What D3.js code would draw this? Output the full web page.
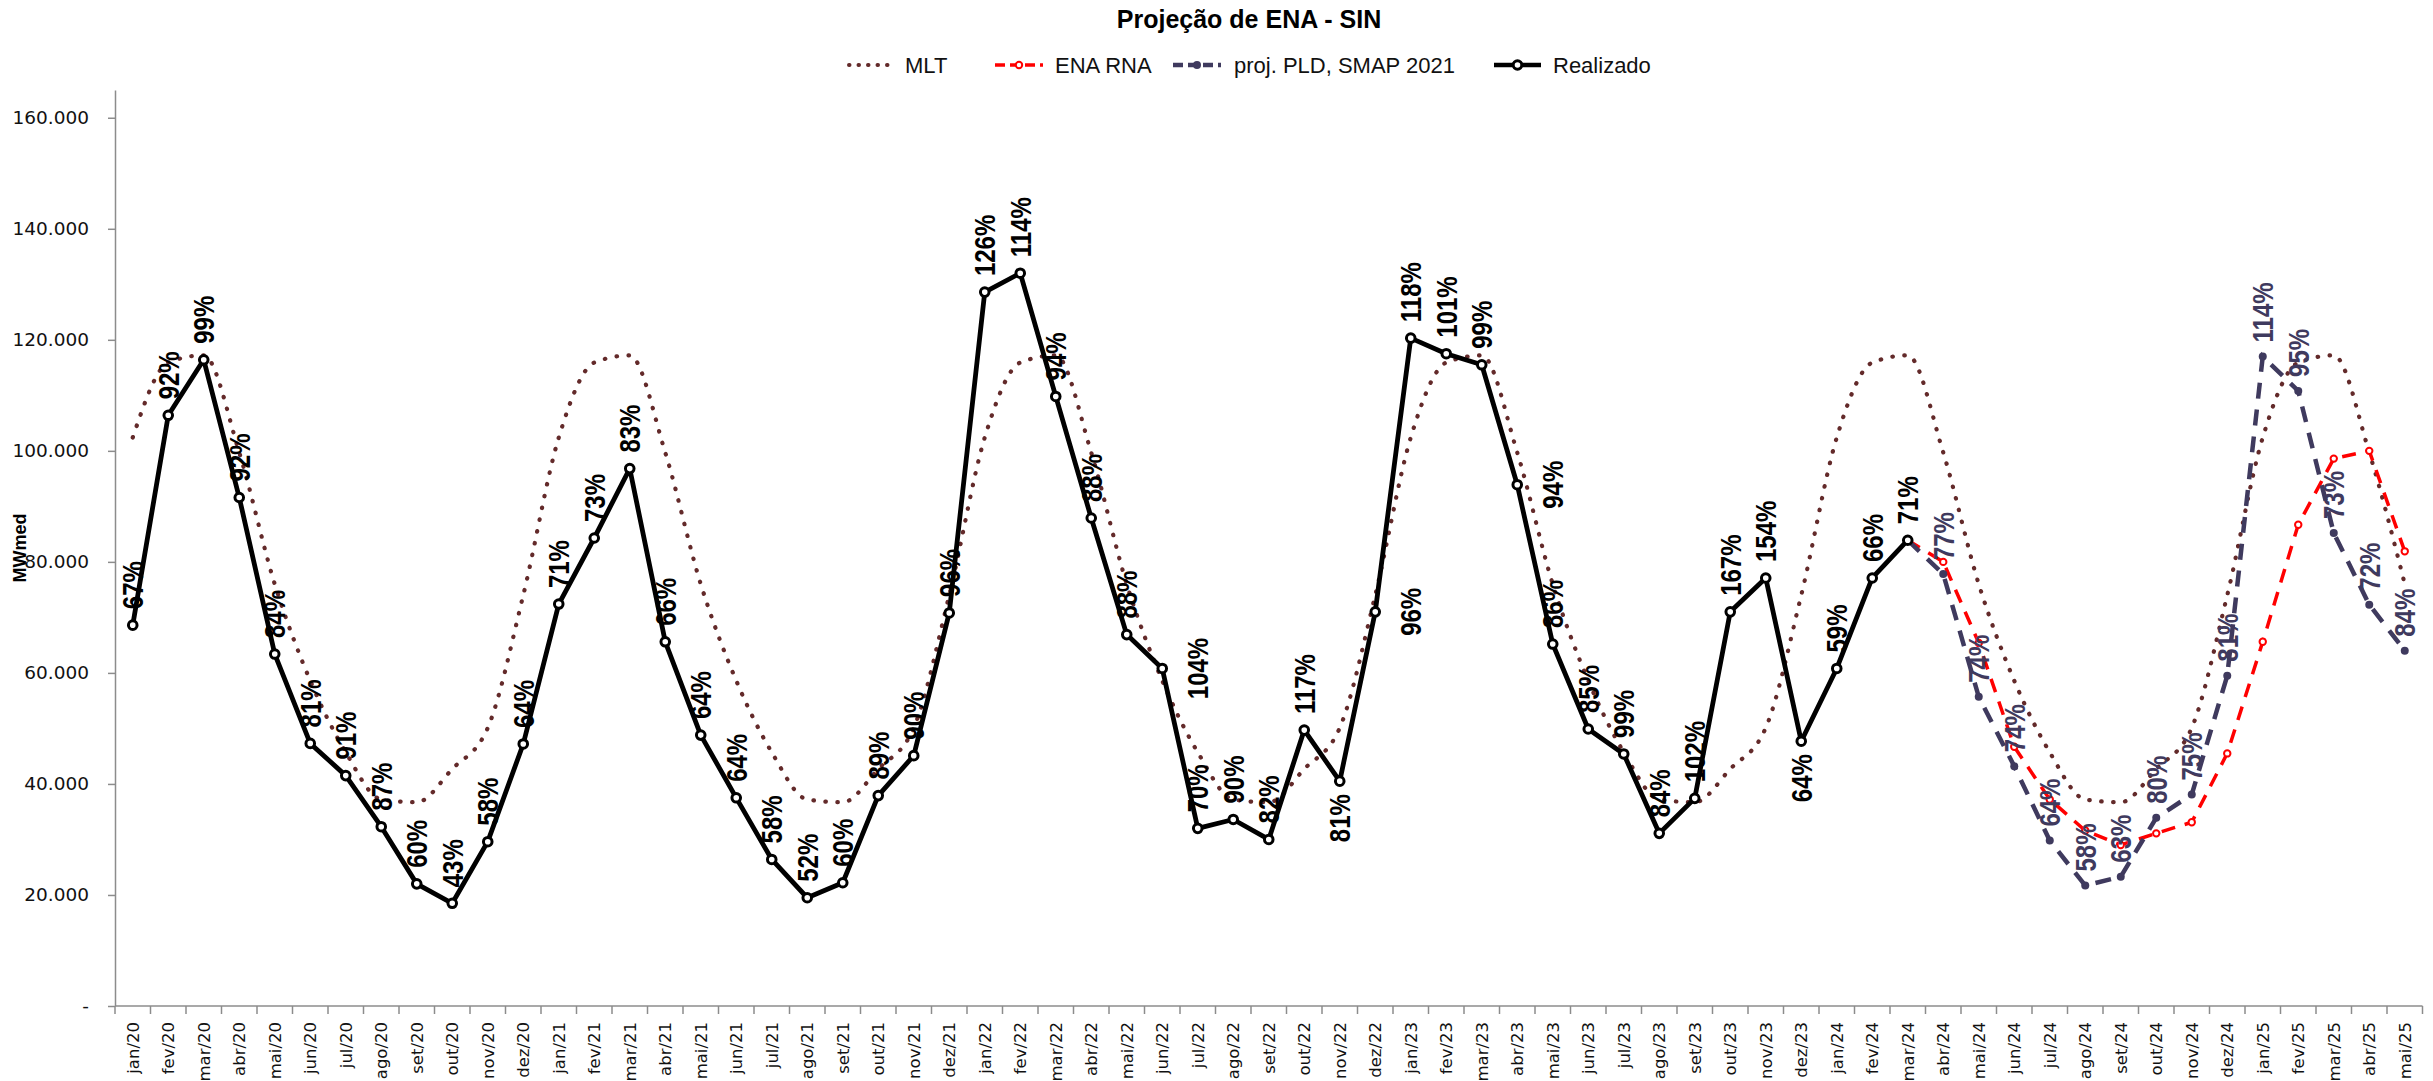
<!DOCTYPE html>
<html><head><meta charset="utf-8">
<script src="https://cdn.jsdelivr.net/npm/d3@7"></script>
<style>body{margin:0;background:#fff}svg{display:block}</style>
</head><body>
<svg id="chart" width="2433" height="1081"></svg>
<script>
// ---------- DATA ----------
const months = [
 "jan/20","fev/20","mar/20","abr/20","mai/20","jun/20","jul/20","ago/20","set/20","out/20","nov/20","dez/20",
 "jan/21","fev/21","mar/21","abr/21","mai/21","jun/21","jul/21","ago/21","set/21","out/21","nov/21","dez/21",
 "jan/22","fev/22","mar/22","abr/22","mai/22","jun/22","jul/22","ago/22","set/22","out/22","nov/22","dez/22",
 "jan/23","fev/23","mar/23","abr/23","mai/23","jun/23","jul/23","ago/23","set/23","out/23","nov/23","dez/23",
 "jan/24","fev/24","mar/24","abr/24","mai/24","jun/24","jul/24","ago/24","set/24","out/24","nov/24","dez/24",
 "jan/25","fev/25","mar/25","abr/25","mai/25"];

const mlt = [
 102400,115900,117200,99700,76000,58600,45700,37200,36700,42700,50100,74000,
 102400,115900,117200,99700,76000,58600,45700,37200,36700,42700,50100,74000,
 102400,115900,117200,99700,76000,58600,45700,37200,36700,42700,50100,74000,
 102400,115900,117200,99700,76000,58600,45700,37200,36700,42700,50100,74000,
 102400,115900,117200,99700,76000,58600,45700,37200,36700,42700,50100,74000,
 102400,115900,117200,99700,76000];

const realizado = [
 68600,106400,116400,91600,63400,47300,41500,32300,22000,18500,29600,47200,
 72400,84300,96800,65600,48800,37500,26400,19500,22200,37900,45100,70800,
 128600,132000,109800,87900,66900,60800,32000,33600,30000,49700,40500,71000,
 120300,117500,115500,93900,65200,49900,45400,31100,37400,71000,77100,47700,
 60800,77100,83900,null,null,null,null,null,null,null,null,null,
 null,null,null,null,null];

const realizadoPct = [
 67,92,99,92,84,81,91,87,60,43,58,64,
 71,73,83,66,64,64,58,52,60,89,90,96,
 126,114,94,88,88,104,70,90,82,117,81,96,
 118,101,99,94,86,85,99,84,102,167,154,64,
 59,66,71,null,null,null,null,null,null,null,null,null,
 null,null,null,null,null];

const enaRna = [
 null,null,null,null,null,null,null,null,null,null,null,null,
 null,null,null,null,null,null,null,null,null,null,null,null,
 null,null,null,null,null,null,null,null,null,null,null,null,
 null,null,null,null,null,null,null,null,null,null,null,null,
 null,null,83900,80000,65400,46700,37200,31600,29000,31100,33100,45500,
 65600,86700,98600,100000,81900];

const projPLD = [
 null,null,null,null,null,null,null,null,null,null,null,null,
 null,null,null,null,null,null,null,null,null,null,null,null,
 null,null,null,null,null,null,null,null,null,null,null,null,
 null,null,null,null,null,null,null,null,null,null,null,null,
 null,null,83900,77800,55700,43200,29800,21700,23300,33900,38100,59500,
 117000,110800,85200,72300,64000];

const projPct = [
 null,null,null,null,null,null,null,null,null,null,null,null,
 null,null,null,null,null,null,null,null,null,null,null,null,
 null,null,null,null,null,null,null,null,null,null,null,null,
 null,null,null,null,null,null,null,null,null,null,null,null,
 null,null,null,77,74,74,64,58,63,80,75,81,
 114,95,73,72,84];

const yTicks = [0,20000,40000,60000,80000,100000,120000,140000,160000];
const legendNames = ["MLT","ENA RNA","proj. PLD, SMAP 2021","Realizado"];

// ---------- LAYOUT / STYLE ----------
const labelPlacement = {29:"right",34:"below",35:"right",39:"right",47:"below"};
const C = {mlt:"#632a2a", red:"#ff0000", purple:"#3f3a5e", black:"#000", axis:"#8c8c8c"};
const pctFont = "'Liberation Sans', Arial, sans-serif";

const svg = d3.select("#chart");
const x = d3.scaleBand().domain(months).range([115, 2422.5]).paddingInner(0).paddingOuter(0);
const bw = x.bandwidth();
const cx = i => x(months[i]) + bw/2;
const y = d3.scaleLinear().domain([0,165000]).range([1006, 90]);

// title
svg.append("text").attr("x",1249).attr("y",19).attr("dy","0.35em")
  .attr("text-anchor","middle").attr("font-family",pctFont).attr("font-weight","bold")
  .attr("font-size",25).text("Projeção de ENA - SIN");

// Y axis
const locale = d3.formatLocale({decimal:",", thousands:".", grouping:[3], currency:["",""]});
const f = locale.format(",.0f");
const yAxis = d3.axisLeft(y).tickValues(yTicks).tickSize(7).tickSizeOuter(0).tickPadding(19)
  .tickFormat(v => v===0 ? "-" : f(v));
const gy = svg.append("g").attr("transform","translate(115,0)").call(yAxis);
gy.select(".domain").attr("stroke",C.axis).attr("stroke-width",1.5);
gy.selectAll(".tick line").attr("stroke",C.axis).attr("stroke-width",1.5);
gy.selectAll(".tick text").attr("font-family","'DejaVu Sans', sans-serif").attr("font-size",18.5).attr("fill","#111");

svg.append("text").attr("transform","translate(20,548) rotate(-90)").attr("dy","0.35em")
  .attr("text-anchor","middle").attr("font-family",pctFont).attr("font-weight","bold")
  .attr("font-size",18).text("MWmed");

// X axis
const x0 = x.range()[0], x1 = x.range()[1];
svg.append("line").attr("x1",x0).attr("x2",x1).attr("y1",y(0)).attr("y2",y(0))
  .attr("stroke",C.axis).attr("stroke-width",1.5);
const bounds = months.map(m => x(m)).concat([x1]);
svg.append("g").selectAll("line").data(bounds).join("line")
  .attr("x1",d=>d).attr("x2",d=>d).attr("y1",y(0)).attr("y2",y(0)+8)
  .attr("stroke",C.axis).attr("stroke-width",1.5);
svg.append("g").selectAll("text").data(months).join("text")
  .attr("transform",(d,i)=>`translate(${cx(i)},${y(0)+16}) rotate(-90)`)
  .attr("dy","0.35em").attr("text-anchor","end")
  .attr("font-family","'DejaVu Sans', sans-serif").attr("font-size",16.5).attr("fill","#111")
  .text(d=>d);

// lines
const pts = arr => arr.map((v,i)=>({i,v}));
const smooth = d3.line().defined(d=>d.v!=null).x(d=>cx(d.i)).y(d=>y(d.v)).curve(d3.curveMonotoneX);
const line = d3.line().defined(d=>d.v!=null).x(d=>cx(d.i)).y(d=>y(d.v));

svg.append("path").datum(pts(mlt)).attr("d", smooth)
  .attr("fill","none").attr("stroke",C.mlt).attr("stroke-width",4.2)
  .attr("stroke-linecap","round").attr("stroke-dasharray","0.5 11.5");

svg.append("path").datum(pts(enaRna)).attr("d",line)
  .attr("fill","none").attr("stroke",C.red).attr("stroke-width",3.5).attr("stroke-dasharray","14 10");
svg.append("path").datum(pts(projPLD)).attr("d",line)
  .attr("fill","none").attr("stroke",C.purple).attr("stroke-width",4.5).attr("stroke-dasharray","16 11");
svg.append("path").datum(pts(realizado)).attr("d",line)
  .attr("fill","none").attr("stroke",C.black).attr("stroke-width",4.8).attr("stroke-linejoin","round");

// markers
svg.append("g").selectAll("circle").data(pts(enaRna).filter(d=>d.v!=null)).join("circle")
  .attr("cx",d=>cx(d.i)).attr("cy",d=>y(d.v)).attr("r",3.2)
  .attr("fill","#fff").attr("stroke",C.red).attr("stroke-width",2);
svg.append("g").selectAll("circle").data(pts(projPLD).filter(d=>d.v!=null)).join("circle")
  .attr("cx",d=>cx(d.i)).attr("cy",d=>y(d.v)).attr("r",4)
  .attr("fill",C.purple);
svg.append("g").selectAll("circle").data(pts(realizado).filter(d=>d.v!=null)).join("circle")
  .attr("cx",d=>cx(d.i)).attr("cy",d=>y(d.v)).attr("r",4.3)
  .attr("fill","#fff").attr("stroke",C.black).attr("stroke-width",3);

// percent labels
function labelT(i, v, place, gapAbove){
  const px = cx(i), py = y(v);
  if(place==="below") return {t:`translate(${px},${py+13}) rotate(-90) scale(0.8,1)`, a:"end"};
  if(place==="right") return {t:`translate(${px+35},${py}) rotate(-90) scale(0.8,1)`, a:"middle"};
  return {t:`translate(${px},${py-gapAbove}) rotate(-90) scale(0.8,1)`, a:"start"};
}
const realLab = realizadoPct.map((p,i)=>({i,p,v:realizado[i]})).filter(d=>d.p!=null);
svg.append("g").selectAll("text").data(realLab).join("text")
  .each(function(d){
    const L = labelT(d.i, d.v, labelPlacement[d.i]||"above", 16);
    d3.select(this).attr("transform",L.t).attr("text-anchor",L.a);
  })
  .attr("dy","0.35em").attr("font-family",pctFont).attr("font-weight","bold")
  .attr("font-size",30).attr("fill",C.black)
  .text(d=>d.p+"%");
const projLab = projPct.map((p,i)=>({i,p,v:projPLD[i]})).filter(d=>d.p!=null);
svg.append("g").selectAll("text").data(projLab).join("text")
  .each(function(d){
    const L = labelT(d.i, d.v, "above", 14);
    d3.select(this).attr("transform",L.t).attr("text-anchor",L.a);
  })
  .attr("dy","0.35em").attr("font-family",pctFont).attr("font-weight","bold")
  .attr("font-size",30).attr("fill",C.purple)
  .text(d=>d.p+"%");

// legend
const legendPos = [{s:849,e:892,t:905},{s:995,e:1043,t:1055},{s:1173,e:1221,t:1234},{s:1494,e:1541,t:1553}];
const ly = 65;
const lg = svg.append("g");
legendNames.forEach((name,k)=>{
  const p = legendPos[k];
  const ln = lg.append("line").attr("x1",p.s).attr("x2",p.e).attr("y1",ly).attr("y2",ly);
  if(k===0) ln.attr("stroke",C.mlt).attr("stroke-width",4).attr("stroke-linecap","round").attr("stroke-dasharray","0.5 9");
  if(k===1){ ln.attr("stroke",C.red).attr("stroke-width",3.5).attr("stroke-dasharray","10 5");
    lg.append("circle").attr("cx",(p.s+p.e)/2).attr("cy",ly).attr("r",3.2).attr("fill","#fff").attr("stroke",C.red).attr("stroke-width",2); }
  if(k===2){ ln.attr("stroke",C.purple).attr("stroke-width",4.5).attr("stroke-dasharray","10 5");
    lg.append("circle").attr("cx",(p.s+p.e)/2).attr("cy",ly).attr("r",4).attr("fill",C.purple); }
  if(k===3){ ln.attr("stroke",C.black).attr("stroke-width",4.5);
    lg.append("circle").attr("cx",(p.s+p.e)/2).attr("cy",ly).attr("r",4.3).attr("fill","#fff").attr("stroke",C.black).attr("stroke-width",3); }
  lg.append("text").attr("x",p.t).attr("y",ly).attr("dy","0.35em")
    .attr("font-family",pctFont).attr("font-size",22).attr("fill","#111").text(name);
});
</script>
</body></html>
